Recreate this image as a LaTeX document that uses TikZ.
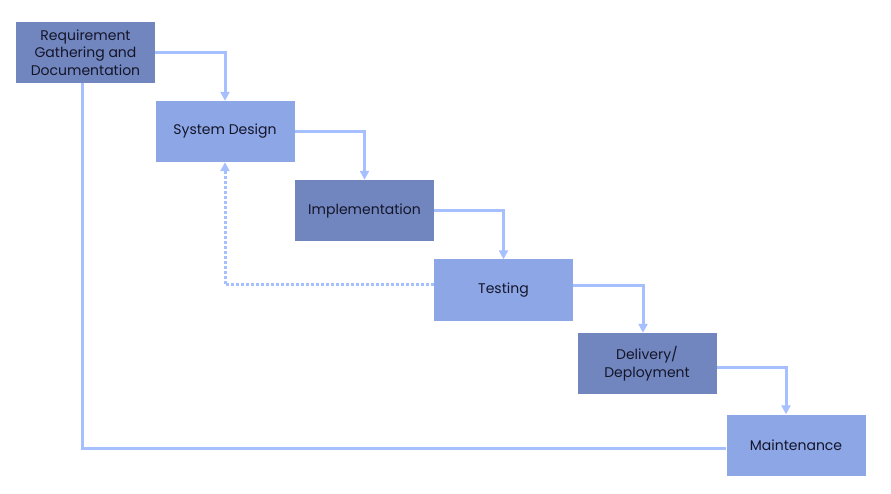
\documentclass[tikz,border=0pt]{standalone}
\usepackage{fontspec}
\setmainfont{Poppins}
\usepackage{tikz}
\usetikzlibrary{arrows.meta}
\usepackage{xcolor}
\definecolor{darkbox}{HTML}{7186BE}
\definecolor{lightbox}{HTML}{8CA6E6}
\definecolor{flow}{HTML}{A6BFFF}
\definecolor{ink}{HTML}{15152A}

\begin{document}
\begin{tikzpicture}[x=1pt,y=1pt,
  phase/.style={minimum width=139pt,minimum height=61pt,inner sep=0pt,
    text=ink,align=center,font=\fontsize{14}{17.5}\selectfont},
  darkphase/.style={phase,fill=darkbox},
  lightphase/.style={phase,fill=lightbox},
  flowline/.style={draw=flow,line width=3pt},
  tip/.style={-{Triangle[length=9pt,width=9pt]}}]
  \useasboundingbox (0,0) rectangle (891,493);

\node[darkphase] (req) at (85.5,440.5) {Requirement\\Gathering and\\Documentation};
\node[lightphase] (design) at (225,361.5) {System Design};
\node[darkphase] (impl) at (364.5,282.5) {Implementation};
\node[lightphase] (test) at (503.5,203) {Testing};
\node[darkphase] (deliv) at (647,129.5) {Delivery/\\Deployment};
\node[lightphase] (maint) at (796,48) {Maintenance};

% stepping down the waterfall
\draw[flowline,tip] (req.east) -| (design.north);
\draw[flowline,tip] (design.east) -| (impl.north);
\draw[flowline,tip] (impl.east) -| (test.north);
\draw[flowline,tip] ([yshift=4pt]test.east) -| ([xshift=-4pt]deliv.north);
\draw[flowline,tip] ([yshift=-4pt]deliv.east) -| ([xshift=-10pt]maint.north);

% feedback from testing
\draw[flowline,tip,dash pattern=on 2.5pt off 2.5pt] ([yshift=5pt]test.west) -| (design.south);

\draw[flowline] ([xshift=-3pt]req.south) |- ([yshift=-3pt]maint.west);

\end{tikzpicture}
\end{document}
